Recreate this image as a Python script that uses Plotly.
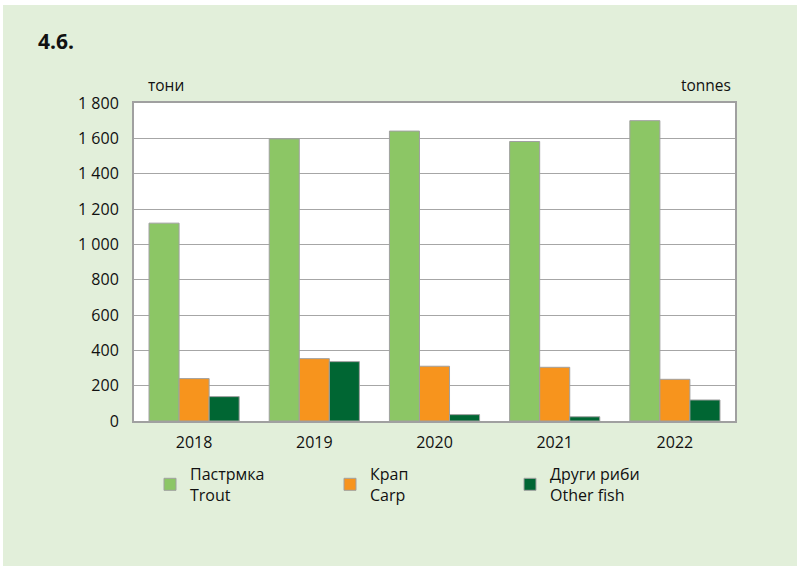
import plotly.graph_objects as go

# Fish production by species, tonnes
years = ["2018", "2019", "2020", "2021", "2022"]
trout = [1120, 1597, 1641, 1582, 1700]
carp = [240, 353, 310, 304, 236]
other_fish = [138, 336, 36, 24, 119]

series_names = ["Пастрмка<br>Trout", "Крап<br>Carp", "Други риби<br>Other fish"]
series_colors = ["#8CC665", "#F7941D", "#006633"]

y_ticks = [0, 200, 400, 600, 800, 1000, 1200, 1400, 1600, 1800]
y_tick_text = ["0", "200", "400", "600", "800", "1 000", "1 200", "1 400", "1 600", "1 800"]

W, H = 797, 566
ML, MR, MT, MB = 134, 62, 103, 145
PW, PH = W - ML - MR, H - MT - MB

fig = go.Figure()
for name, vals, col in zip(series_names, [trout, carp, other_fish], series_colors):
    fig.add_trace(go.Bar(
        x=years, y=vals, name=name,
        marker=dict(color=col, line=dict(color="#A0A0A0", width=1)),
    ))

FONT = "Open Sans"


def px_to_paper_x(px):
    return (px - ML) / PW


def px_to_paper_y(py):
    return 1 - (py - MT) / PH


# page background with a thin white strip on the top and left edges
shapes = [
    dict(type="rect", xref="paper", yref="paper", layer="below",
         x0=px_to_paper_x(3), x1=px_to_paper_x(W + 2),
         y0=px_to_paper_y(H + 2), y1=px_to_paper_y(5),
         fillcolor="#E2EFDA", line=dict(width=0)),
    dict(type="rect", xref="paper", yref="paper", layer="below",
         x0=0, x1=1, y0=0, y1=1,
         fillcolor="white", line=dict(width=0)),
]

fig.update_layout(
    width=W, height=H,
    margin=dict(l=ML, r=MR, t=MT, b=MB),
    paper_bgcolor="white",
    plot_bgcolor="white",
    barmode="group",
    bargap=0.25,
    bargroupgap=0,
    font=dict(family=FONT, size=15, color="#111111"),
    shapes=shapes,
    showlegend=True,
    legend=dict(
        orientation="h",
        x=px_to_paper_x(150), xanchor="left",
        y=px_to_paper_y(457), yanchor="top",
        entrywidth=135, entrywidthmode="pixels",
        font=dict(family=FONT, size=16, color="#111111"),
        bgcolor="rgba(0,0,0,0)",
        traceorder="normal",
    ),
    xaxis=dict(
        showline=True, linecolor="#A0A0A0", linewidth=2, mirror=True,
        ticks="", ticklabelstandoff=6,
        tickfont=dict(family=FONT, size=16, color="#111111"),
    ),
    yaxis=dict(
        range=[0, 1800],
        tickvals=y_ticks, ticktext=y_tick_text,
        showgrid=True, gridcolor="#A6A6A6", gridwidth=1,
        showline=True, linecolor="#A0A0A0", linewidth=2, mirror=True,
        zeroline=False,
        ticks="", ticklabelstandoff=10,
        tickfont=dict(family=FONT, size=16, color="#111111"),
    ),
    annotations=[
        dict(text="<b>4.6.</b>", xref="paper", yref="paper",
             x=px_to_paper_x(36), y=px_to_paper_y(41),
             xanchor="left", yanchor="middle", showarrow=False,
             font=dict(family=FONT, size=21, color="#111111")),
        dict(text="тони", xref="paper", yref="paper",
             x=px_to_paper_x(146), y=px_to_paper_y(98),
             xanchor="left", yanchor="bottom", showarrow=False,
             font=dict(family=FONT, size=15.5, color="#111111")),
        dict(text="tonnes", xref="paper", yref="paper",
             x=px_to_paper_x(733), y=px_to_paper_y(98),
             xanchor="right", yanchor="bottom", showarrow=False,
             font=dict(family=FONT, size=15.5, color="#111111")),
    ],
)

fig.write_html("out.html")
